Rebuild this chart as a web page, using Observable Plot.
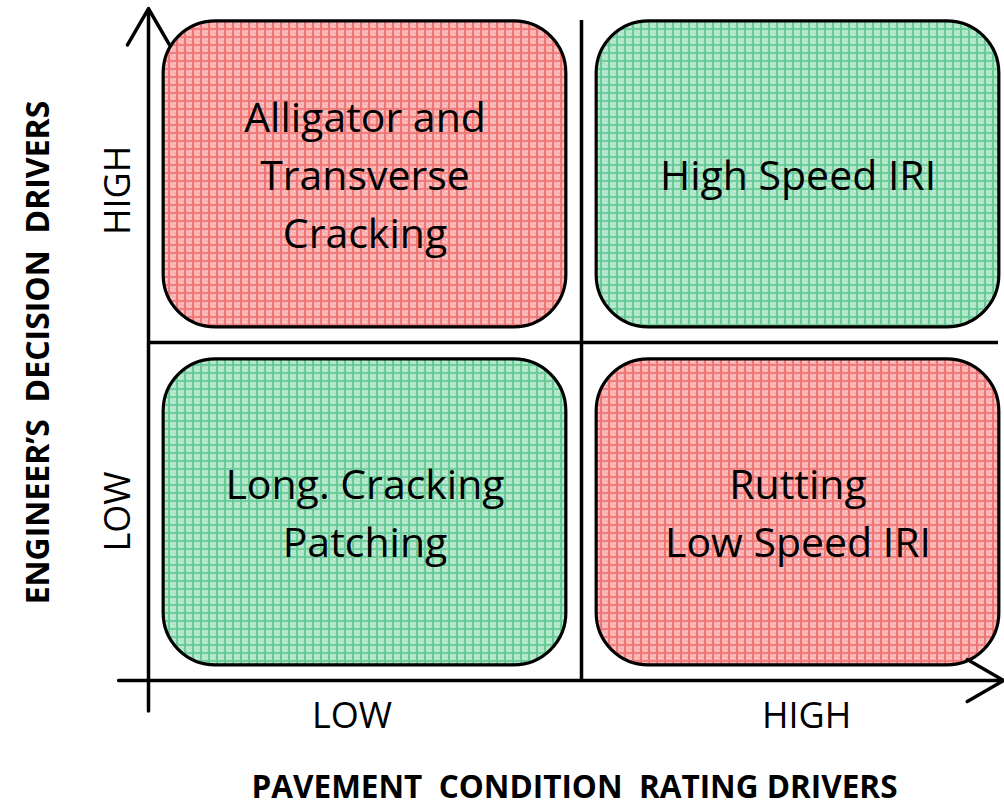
<!DOCTYPE html>
<html><head><meta charset="utf-8">
<script src="https://cdn.jsdelivr.net/npm/d3@7"></script>
<script src="https://cdn.jsdelivr.net/npm/@observablehq/plot@0.6"></script>
<style>
body{margin:0;background:#fff}
svg text{white-space:pre}
</style>
</head><body><div id="chart"></div>
<script>
// ---- data ----
const xLevels = ["LOW", "HIGH"];
const yLevels = ["LOW", "HIGH"];
const xTickLabels = ["LOW", "HIGH"];
const xTickPos = [0.47, 1.52];
const yTickLabels = ["LOW", "HIGH"];
const yTickPos = [0.5, 1.45];
const quadrantX = ["LOW", "HIGH", "LOW", "HIGH"];
const quadrantY = ["HIGH", "HIGH", "LOW", "LOW"];
const quadrantLabel = ["Alligator and\nTransverse\nCracking", "High Speed IRI", "Long. Cracking\nPatching", "Rutting\nLow Speed IRI"];
const quadrantRisk = ["red", "green", "green", "red"];
const xTitle = "PAVEMENT  CONDITION  RATING DRIVERS";
const yTitle = "ENGINEER’S  DECISION  DRIVERS";

// ---- build table ----
const quads = quadrantLabel.map((label, k) => {
  const i = xLevels.indexOf(quadrantX[k]);
  const j = yLevels.indexOf(quadrantY[k]);
  return {label, risk: quadrantRisk[k], x1: i + 0.035, x2: i + 0.965, y1: j + 0.045, y2: j + 0.95, cx: i + 0.5, cy: j + 0.5};
});
const xTicks = xTickLabels.map((t, k) => ({t, x: xTickPos[k]}));
const yTicks = yTickLabels.map((t, k) => ({t, y: yTickPos[k]}));

const W = 1004, H = 807;
const FONT = "'Open Sans', sans-serif";

const chart = Plot.plot({
  width: W, height: H,
  margin: 0,
  style: {fontFamily: FONT, background: "#fff", color: "#000"},
  x: {type: "linear", domain: [-148 / 433, (W - 148) / 433], range: [0, W], axis: null},
  y: {type: "linear", domain: [-(H - 680) / 338, 680 / 338], range: [H, 0], axis: null},
  marks: [
    Plot.rect(quads, {x1: "x1", x2: "x2", y1: "y1", y2: "y2", rx: 52,
      fill: d => d.risk === "red" ? "url(#hatchRed)" : "url(#hatchGreen)",
      stroke: "#000", strokeWidth: 3.2}),
    Plot.text(quads, {x: "cx", y: "cy", text: "label", fontSize: 41, lineHeight: 1.41, dy: -2, fill: "#000"}),
    // main axes
    Plot.arrow([{x1: 0, y1: -0.09, x2: 0, y2: 1.988}], {x1: "x1", y1: "y1", x2: "x2", y2: "y2", stroke: "#000", strokeWidth: 3.5, headLength: 18, headAngle: 60}),
    Plot.arrow([{x1: -0.069, y1: 0, x2: 1.975, y2: 0}], {x1: "x1", y1: "y1", x2: "x2", y2: "y2", stroke: "#000", strokeWidth: 3.5, headLength: 18, headAngle: 60}),
    // dividers
    Plot.ruleX([1], {y1: 0, y2: 1.953, stroke: "#000", strokeWidth: 3.5}),
    Plot.ruleY([1], {x1: 0, x2: 1.963, stroke: "#000", strokeWidth: 3.5}),
    // tick labels
    Plot.text(xTicks, {x: "x", text: "t", frameAnchor: "bottom", lineAnchor: "middle", dy: -(H - 716), fontSize: 36, fill: "#000"}),
    Plot.text(yTicks, {y: "y", text: "t", frameAnchor: "left", textAnchor: "middle", lineAnchor: "middle", dx: 118, rotate: -90, fontSize: 36, fill: "#000"}),
    // titles
    Plot.text([xTitle], {text: d => d, frameAnchor: "bottom", lineAnchor: "middle", dx: 72, dy: -(H - 787), fontSize: 31.5, fontWeight: "bold", fill: "#000"}),
    Plot.text([yTitle], {text: d => d, frameAnchor: "left", textAnchor: "middle", lineAnchor: "middle", dx: 38, dy: 352 - H / 2, rotate: -90, fontSize: 32, fontWeight: "bold", fill: "#000"})
  ]
});

// hatch patterns
const defs = d3.select(chart).insert("defs", ":first-child");
function hatch(id, base, dark, light) {
  const p = defs.append("pattern").attr("id", id).attr("patternUnits", "userSpaceOnUse").attr("width", 8).attr("height", 8);
  p.append("rect").attr("width", 8).attr("height", 8).attr("fill", base);
  p.append("rect").attr("x", 0).attr("y", 0).attr("width", 2).attr("height", 8).attr("fill", dark);
  p.append("rect").attr("x", 0).attr("y", 4).attr("width", 8).attr("height", 2).attr("fill", dark).attr("opacity", 0.85);
  p.append("rect").attr("x", 3).attr("y", 1).attr("width", 1).attr("height", 1).attr("fill", light);
  p.append("rect").attr("x", 5).attr("y", 2).attr("width", 1).attr("height", 1).attr("fill", light);
  p.append("rect").attr("x", 6).attr("y", 7).attr("width", 1).attr("height", 1).attr("fill", light);
}
hatch("hatchRed", "#f8b2b2", "#f07474", "#fde0e0");
hatch("hatchGreen", "#b0e5c8", "#66ca97", "#dcf4e7");

document.getElementById("chart").appendChild(chart);
</script>
</body></html>
